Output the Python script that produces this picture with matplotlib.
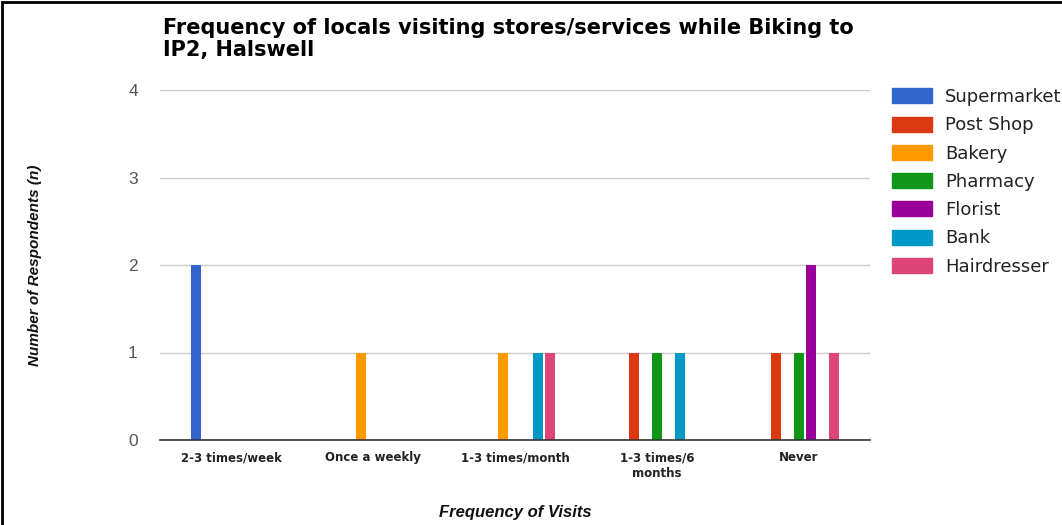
import numpy as np
from matplotlib import pyplot as plt
from matplotlib.patches import Rectangle, Patch

categories = ["2-3 times/week", "Once a weekly", "1-3 times/month", "1-3 times/6\nmonths", "Never"]
series = ["Supermarket", "Post Shop", "Bakery", "Pharmacy", "Florist", "Bank", "Hairdresser"]
supermarket = [2, 0, 0, 0, 0]
post_shop = [0, 0, 0, 1, 1]
bakery = [0, 1, 1, 0, 0]
pharmacy = [0, 0, 0, 1, 1]
florist = [0, 0, 0, 0, 2]
bank = [0, 0, 1, 1, 0]
hairdresser = [0, 0, 1, 0, 1]
values = [supermarket, post_shop, bakery, pharmacy, florist, bank, hairdresser]
colors = ["#3366cc", "#dc3912", "#ff9900", "#109618", "#990099", "#0099c6", "#dd4477"]

plt.rcParams['font.family'] = ['Liberation Sans', 'DejaVu Sans']

fig = plt.figure(figsize=(10.62, 5.25), dpi=100)
ax = fig.add_axes([160/1062, 85/525, 710/1062, 350/525])

x = np.arange(len(categories))
slot = 0.082
bw = 0.07
for i, (name, vals) in enumerate(zip(series, values)):
    ax.bar(x + (i - 3) * slot, vals, width=bw, color=colors[i], zorder=3)

ax.set_xlim(-0.5, len(categories) - 0.5)
ax.set_ylim(0, 4)
ax.set_yticks([0, 1, 2, 3, 4])
ax.set_xticks(x)
ax.set_xticklabels(categories, fontsize=8.5, color="#222222", fontweight="bold",
                   family=['DejaVu Sans'], linespacing=1.3)
ax.tick_params(axis='y', labelsize=12.5, colors="#555555", length=0, pad=16)
ax.tick_params(axis='x', length=0, pad=8)
ax.grid(axis='y', color="#cccccc", linewidth=1, zorder=0)
for s in ["top", "right", "left"]:
    ax.spines[s].set_visible(False)
ax.spines["bottom"].set_color("#333333")
ax.spines["bottom"].set_linewidth(1.2)
ax.spines["bottom"].set_zorder(4)

fig.text(163/1062, 1 - 28/525, "Frequency of locals visiting stores/services while Biking to",
         fontsize=15, fontweight="bold", va="center", ha="left", family=['DejaVu Sans'])
fig.text(163/1062, 1 - 50/525, "IP2, Halswell",
         fontsize=15, fontweight="bold", va="center", ha="left", family=['DejaVu Sans'])
fig.text(35/1062, 1 - 265/525, "Number of Respondents (n)", rotation=90, fontsize=11,
         fontweight="bold", fontstyle="italic", ha="center", va="center", color="#111111")
fig.text(515/1062, 1 - 513/525, "Frequency of Visits", fontsize=12, fontweight="bold",
         fontstyle="italic", ha="center", va="center", color="#111111")

handles = [Patch(facecolor=c, edgecolor=c) for c in colors]
fig.legend(handles, series, loc="upper left", bbox_to_anchor=(892/1062, 1 - 88/525),
           frameon=False, prop={'family': 'DejaVu Sans', 'size': 13}, handlelength=2.2,
           handleheight=0.9, labelspacing=0.57, handletextpad=0.75, labelcolor="#222222",
           borderaxespad=0, borderpad=0)

fig.patches.append(Rectangle((2/1062, -0.01), 1.02, 1 - 2/525 + 0.01, transform=fig.transFigure,
                             fill=False, edgecolor="black", linewidth=2))

fig.savefig("out.png", dpi=100)
